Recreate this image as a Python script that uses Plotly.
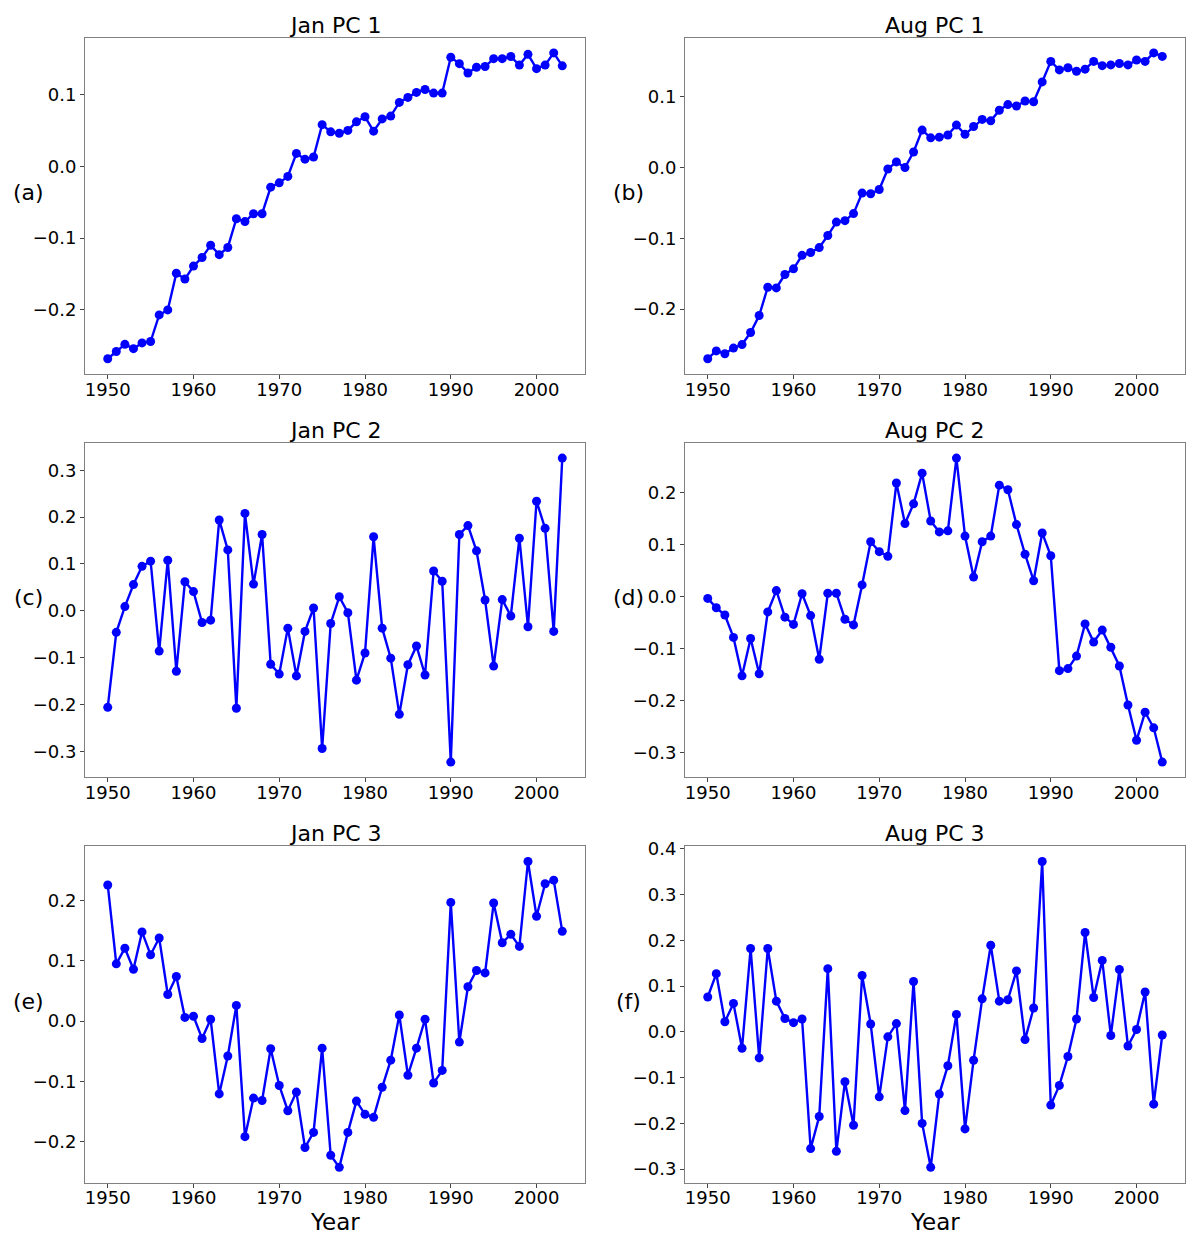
import plotly.graph_objects as go
from plotly.subplots import make_subplots

years = list(range(1950, 2004))

jan_pc1 = [-0.268, -0.258, -0.248, -0.254, -0.246, -0.244, -0.207, -0.200, -0.149, -0.157,
           -0.139, -0.127, -0.110, -0.123, -0.113, -0.073, -0.077, -0.066, -0.066, -0.029,
           -0.023, -0.014, 0.018, 0.010, 0.013, 0.058, 0.048, 0.046, 0.050, 0.062,
           0.069, 0.049, 0.066, 0.070, 0.089, 0.096, 0.103, 0.107, 0.102, 0.102,
           0.152, 0.143, 0.130, 0.138, 0.139, 0.150, 0.150, 0.153, 0.141, 0.156,
           0.136, 0.141, 0.158, 0.140]

aug_pc1 = [-0.270, -0.259, -0.263, -0.255, -0.250, -0.233, -0.209, -0.169, -0.170, -0.151,
           -0.143, -0.124, -0.120, -0.113, -0.096, -0.077, -0.075, -0.065, -0.036, -0.037,
           -0.031, -0.002, 0.008, 0.000, 0.022, 0.053, 0.042, 0.043, 0.046, 0.060,
           0.047, 0.058, 0.068, 0.066, 0.081, 0.089, 0.087, 0.094, 0.093, 0.121,
           0.150, 0.138, 0.141, 0.136, 0.139, 0.150, 0.144, 0.145, 0.147, 0.145,
           0.152, 0.150, 0.162, 0.157]

jan_pc2 = [-0.206, -0.046, 0.009, 0.056, 0.095, 0.106, -0.086, 0.108, -0.129, 0.062,
           0.041, -0.025, -0.020, 0.194, 0.130, -0.208, 0.208, 0.057, 0.163, -0.114,
           -0.135, -0.037, -0.139, -0.044, 0.006, -0.294, -0.027, 0.030, -0.004, -0.148,
           -0.090, 0.158, -0.037, -0.101, -0.221, -0.115, -0.075, -0.137, 0.085, 0.063,
           -0.323, 0.163, 0.182, 0.128, 0.023, -0.118, 0.024, -0.011, 0.155, -0.034,
           0.234, 0.176, -0.044, 0.326]

aug_pc2 = [-0.004, -0.022, -0.036, -0.079, -0.153, -0.081, -0.149, -0.030, 0.011, -0.040,
           -0.054, 0.005, -0.037, -0.121, 0.006, 0.006, -0.044, -0.055, 0.022, 0.105,
           0.086, 0.077, 0.218, 0.140, 0.178, 0.237, 0.145, 0.124, 0.126, 0.266,
           0.116, 0.037, 0.105, 0.116, 0.214, 0.205, 0.138, 0.081, 0.030, 0.122,
           0.078, -0.143, -0.139, -0.115, -0.053, -0.088, -0.065, -0.098, -0.134, -0.209,
           -0.277, -0.223, -0.253, -0.319]

jan_pc3 = [0.226, 0.095, 0.121, 0.086, 0.148, 0.110, 0.138, 0.044, 0.074, 0.006,
           0.008, -0.029, 0.003, -0.121, -0.058, 0.026, -0.192, -0.128, -0.132, -0.046,
           -0.107, -0.149, -0.118, -0.210, -0.185, -0.045, -0.223, -0.243, -0.185, -0.133,
           -0.155, -0.160, -0.110, -0.065, 0.010, -0.090, -0.045, 0.003, -0.103, -0.082,
           0.197, -0.035, 0.057, 0.084, 0.080, 0.196, 0.130, 0.144, 0.124, 0.265,
           0.174, 0.228, 0.234, 0.149]

aug_pc3 = [0.076, 0.127, 0.022, 0.062, -0.036, 0.182, -0.057, 0.182, 0.067, 0.029,
           0.020, 0.028, -0.255, -0.185, 0.138, -0.261, -0.109, -0.204, 0.123, 0.017,
           -0.142, -0.011, 0.018, -0.172, 0.110, -0.200, -0.296, -0.136, -0.074, 0.038,
           -0.212, -0.062, 0.072, 0.189, 0.067, 0.070, 0.133, -0.017, 0.052, 0.372,
           -0.160, -0.117, -0.054, 0.028, 0.217, 0.075, 0.156, -0.008, 0.136, -0.031,
           0.005, 0.087, -0.158, -0.007]

titles = ['Jan PC 1', 'Aug PC 1', 'Jan PC 2', 'Aug PC 2', 'Jan PC 3', 'Aug PC 3']
letters = ['(a)', '(b)', '(c)', '(d)', '(e)', '(f)']
series = [jan_pc1, aug_pc1, jan_pc2, aug_pc2, jan_pc3, aug_pc3]
x_ticks = [1950, 1960, 1970, 1980, 1990, 2000]

# page has an 8px body margin, so the figure is shrunk and everything shifted by it
OFF = 8
W, H = 1200 - 2 * OFF, 1245 - 2 * OFF
# panel boxes in window pixels (left, right, top, bottom)
cols_px = [(85, 585), (685, 1185)]
rows_px = [(36, 373), (442, 777), (846, 1183)]

fig = make_subplots(rows=3, cols=2)
font_family = 'DejaVu Sans'


def px_x(p):
    return (p - OFF) / W


def px_y(p):
    # small empirical correction: the photographed page came out slightly squashed at the top
    p = (p - 6.4) / 0.9952
    return 1 - (p - OFF) / H


def pad_range(lo, hi, frac=0.05):
    span = hi - lo
    return [lo - frac * span, hi + frac * span]


for i, vals in enumerate(series):
    r, c = i // 2 + 1, i % 2 + 1
    fig.add_trace(go.Scatter(x=years, y=vals, mode='lines+markers',
                             line=dict(color='blue', width=2.4),
                             marker=dict(color='blue', size=9),
                             showlegend=False), row=r, col=c)

    left, right = cols_px[c - 1]
    top, bottom = rows_px[r - 1]
    idx = '' if i == 0 else str(i + 1)
    fig.layout['xaxis' + idx].update(
        domain=[px_x(left), px_x(right)], range=pad_range(min(years), max(years)),
        tickvals=x_ticks, ticks='outside', ticklen=4, tickcolor='#444',
        ticklabelstandoff=-5,
        showline=True, linecolor='#808080', linewidth=1, mirror=True,
        showgrid=False, zeroline=False,
        tickfont=dict(size=18, color='black', family=font_family))
    fig.layout['yaxis' + idx].update(
        domain=[px_y(bottom), px_y(top)], range=pad_range(min(vals), max(vals)),
        dtick=0.1, tickformat='.1f', ticks='outside', ticklen=4, tickcolor='#444',
        showline=True, linecolor='#808080', linewidth=1, mirror=True,
        showgrid=False, zeroline=False,
        tickfont=dict(size=18, color='black', family=font_family))

    cx = px_x((left + right) / 2)
    fig.add_annotation(text=titles[i], x=cx, y=px_y(top + 2), xref='paper', yref='paper',
                       xanchor='center', yanchor='bottom', showarrow=False,
                       font=dict(size=22, color='black', family=font_family))
    fig.add_annotation(text=letters[i], x=px_x(left - 57), y=px_y((top + bottom) / 2 - 13),
                       xref='paper', yref='paper', xanchor='center', yanchor='middle',
                       showarrow=False, font=dict(size=22, color='black', family=font_family))
    if r == 3:
        fig.add_annotation(text='Year', x=cx, y=px_y(1222), xref='paper', yref='paper',
                           xanchor='center', yanchor='middle', showarrow=False,
                           font=dict(size=23, color='black', family=font_family))

fig.update_layout(width=W, height=H, margin=dict(l=0, r=0, t=0, b=0),
                  plot_bgcolor='white', paper_bgcolor='white',
                  font=dict(family=font_family, color='black'))

fig.write_html('out.html')
